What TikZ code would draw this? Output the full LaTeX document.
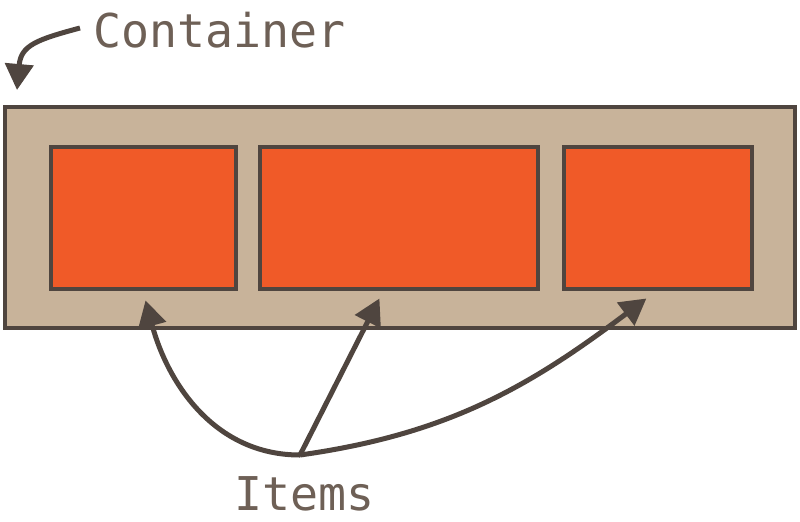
\documentclass[tikz,border=0pt]{standalone}
\usepackage{fontspec}
\setmonofont{DejaVu Sans Mono}
\usetikzlibrary{arrows.meta, positioning}
\definecolor{edgebrown}{HTML}{4F453F}
\definecolor{boxtan}{HTML}{C8B39A}
\definecolor{itemorange}{HTML}{F05A28}
\definecolor{textbrown}{HTML}{6E6056}

\begin{document}
\begin{tikzpicture}[
    x=0.02cm, y=-0.02cm,
    containerbox/.style={draw=edgebrown, fill=boxtan, line width=0.09cm, minimum width=15.8cm, minimum height=4.42cm},
    itembox/.style={draw=edgebrown, fill=itemorange, line width=0.08cm, minimum height=2.86cm},
    label/.style={text=textbrown, font=\ttfamily\fontsize{26.5}{30}\selectfont, inner sep=0pt},
    arr/.style={draw=edgebrown, line width=0.1cm, -{Triangle[length=0.52cm, width=0.56cm]}}
]
\useasboundingbox (0,0) rectangle (800,521);

% Container with its three items
\node[containerbox] (cont) at (400,217.5) {};
\node[itembox, minimum width=3.72cm] (it1) at (143.5,218) {};
\node[itembox, minimum width=5.56cm, right=0.4cm of it1] (it2) {};
\node[itembox, minimum width=3.76cm, right=0.44cm of it2] (it3) {};

% Labels
\node[label, anchor=base west] (contlbl) at (93,47) {Container};
\node[label, anchor=base west] (itemslbl) at (234,510) {Items};

% Pointer to the container
\coordinate (cstart) at (80,28);
\coordinate (ctip) at (17,90);
\draw[arr] (cstart) to[out=195, in=85, looseness=1.3] (ctip);

% Pointers to the items
\coordinate (src) at (300,455);
\draw[arr] (src) to[out=180, in=-75] ([xshift=0.04cm, yshift=-0.18cm]it1.south);
\draw[arr] (src) -- ([xshift=-0.4cm, yshift=-0.14cm]it2.south);
\draw[arr] (src) to[out=8, in=-143] ([xshift=-0.24cm, yshift=-0.14cm]it3.south);
\end{tikzpicture}
\end{document}
